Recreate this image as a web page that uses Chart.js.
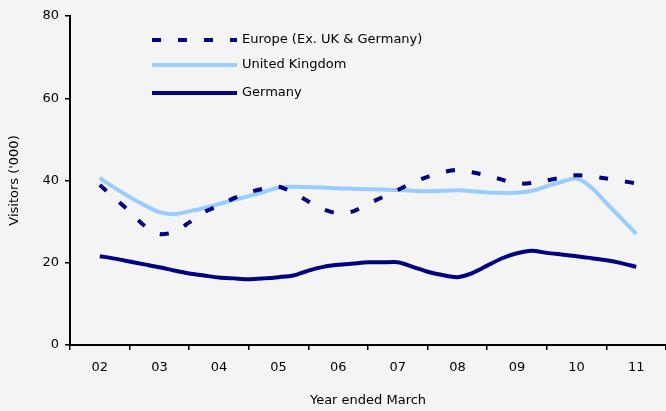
<!DOCTYPE html>
<html>
<head>
<meta charset="utf-8">
<script src="https://cdn.jsdelivr.net/npm/chart.js@4/dist/chart.umd.min.js"></script>
<style>
  html, body { margin: 0; padding: 0; background: #f4f4f4; }
  #wrap { width: 666px; height: 411px; }
</style>
</head>
<body>
<div id="wrap"><canvas id="grafico" width="666" height="411"></canvas></div>
<script>
// year ended March, quarterly points (02 = 2002)
const ANOS = [
  2, 2.25, 2.5, 2.75, 3, 3.25, 3.5, 3.75, 4, 4.25, 4.5, 4.75,
  5, 5.25, 5.5, 5.75, 6, 6.25, 6.5, 6.75, 7, 7.25, 7.5, 7.75,
  8, 8.25, 8.5, 8.75, 9, 9.25, 9.5, 9.75, 10, 10.25, 10.5, 10.75, 11
];
const ROTULOS_X = ['02', '03', '04', '05', '06', '07', '08', '09', '10', '11'];

const EUROPA = [
  38.9, 35.7, 32.5, 29.0, 27.0, 27.5, 29.8, 32.3, 33.9, 35.7, 37.1, 38.0,
  38.5, 37.0, 34.9, 33.0, 32.0, 32.5, 34.3, 36.0, 37.7, 39.5, 40.9, 42.0,
  42.6, 42.0, 41.2, 40.2, 39.2, 39.4, 40.0, 40.7, 41.3, 41.0, 40.5, 39.9, 39.3
];
const REINO_UNIDO = [
  40.6, 38.2, 36.0, 34.0, 32.3, 31.8, 32.5, 33.3, 34.3, 35.3, 36.2, 37.2,
  38.3, 38.5, 38.4, 38.3, 38.1, 38.0, 37.9, 37.8, 37.7, 37.5, 37.4, 37.5,
  37.6, 37.4, 37.1, 37.0, 37.0, 37.5, 38.6, 39.7, 40.5, 38.3, 34.5, 30.8, 27.0
];
const ALEMANHA = [
  21.6, 21.0, 20.3, 19.6, 18.9, 18.1, 17.4, 16.9, 16.4, 16.2, 16.0, 16.2,
  16.5, 16.9, 18.1, 19.0, 19.5, 19.8, 20.1, 20.1, 20.1, 19.0, 17.8, 17.0,
  16.5, 17.5, 19.3, 21.1, 22.3, 22.9, 22.4, 22.0, 21.6, 21.1, 20.6, 19.9, 19.0
];

const TICKS_Y = [0, 20, 40, 60, 80];

const FONTE = '"DejaVu Sans", sans-serif';

const serie = vals => vals.map((v, i) => ({ x: ANOS[i], y: v }));

// ── Legenda dentro da área do gráfico ───────────────────────────────────────
const legendaInterna = {
  id: 'legendaInterna',
  afterDraw(chart) {
    const ctx = chart.ctx;
    const x0 = 152, x1 = 237, xt = 242;
    const linhasY = [40, 65, 93];
    ctx.save();
    ctx.font = '13px ' + FONTE;
    ctx.textBaseline = 'middle';
    chart.data.datasets.forEach((ds, i) => {
      const y = linhasY[i];
      ctx.beginPath();
      ctx.strokeStyle = ds.borderColor;
      ctx.lineWidth = ds.borderWidth;
      ctx.lineCap = 'butt';
      ctx.setLineDash(ds.borderDash || []);
      ctx.moveTo(x0, y);
      ctx.lineTo(x1, y);
      ctx.stroke();
      ctx.setLineDash([]);
      ctx.fillStyle = '#000';
      ctx.fillText(ds.label, xt, y);
    });
    ctx.restore();
  }
};

new Chart(document.getElementById('grafico'), {
  type: 'line',
  data: {
    datasets: [
      {
        label: 'Europe (Ex. UK & Germany)',
        data: serie(EUROPA),
        borderColor: '#000080',
        borderWidth: 4,
        borderDash: [9, 17],
        pointRadius: 0,
        tension: 0.25
      },
      {
        label: 'United Kingdom',
        data: serie(REINO_UNIDO),
        borderColor: '#99ccff',
        borderWidth: 4,
        pointRadius: 0,
        tension: 0.25
      },
      {
        label: 'Germany',
        data: serie(ALEMANHA),
        borderColor: '#000080',
        borderWidth: 4,
        pointRadius: 0,
        tension: 0.25
      }
    ]
  },
  options: {
    responsive: false,
    animation: false,
    layout: { padding: { top: 16, right: 0, left: 0, bottom: 0 } },
    plugins: {
      legend: { display: false },
      tooltip: { enabled: false }
    },
    scales: {
      x: {
        type: 'linear',
        min: 1.5,
        max: 11.5,
        afterBuildTicks: scale => {
          scale.ticks = ROTULOS_X.map((r, i) => ({ value: 2 + i }));
        },
        afterFit: scale => { scale.height = 66; },
        ticks: {
          color: '#000',
          font: { family: FONTE, size: 13 },
          padding: 10,
          maxRotation: 0,
          autoSkip: false,
          callback: (v, i) => ROTULOS_X[i]
        },
        grid: {
          offset: true,
          drawOnChartArea: false,
          drawTicks: true,
          tickLength: 5,
          color: '#000',
          lineWidth: 1.5
        },
        border: { display: true, color: '#000', width: 2 },
        title: {
          display: true,
          text: 'Year ended March',
          color: '#000',
          font: { family: FONTE, size: 13 },
          padding: { top: 16, bottom: 3 }
        }
      },
      y: {
        min: 0,
        max: 80,
        afterBuildTicks: scale => {
          scale.ticks = TICKS_Y.map(v => ({ value: v }));
        },
        afterFit: scale => { scale.width = 70; },
        ticks: {
          color: '#000',
          font: { family: FONTE, size: 13 },
          padding: 6
        },
        grid: {
          drawOnChartArea: false,
          drawTicks: true,
          tickLength: 5,
          color: '#000',
          lineWidth: 1.5
        },
        border: { display: true, color: '#000', width: 2 },
        title: {
          display: true,
          text: "Visitors ('000)",
          color: '#000',
          font: { family: FONTE, size: 13 },
          padding: { top: 7, bottom: 4 }
        }
      }
    }
  },
  plugins: [legendaInterna]
});
</script>
</body>
</html>
